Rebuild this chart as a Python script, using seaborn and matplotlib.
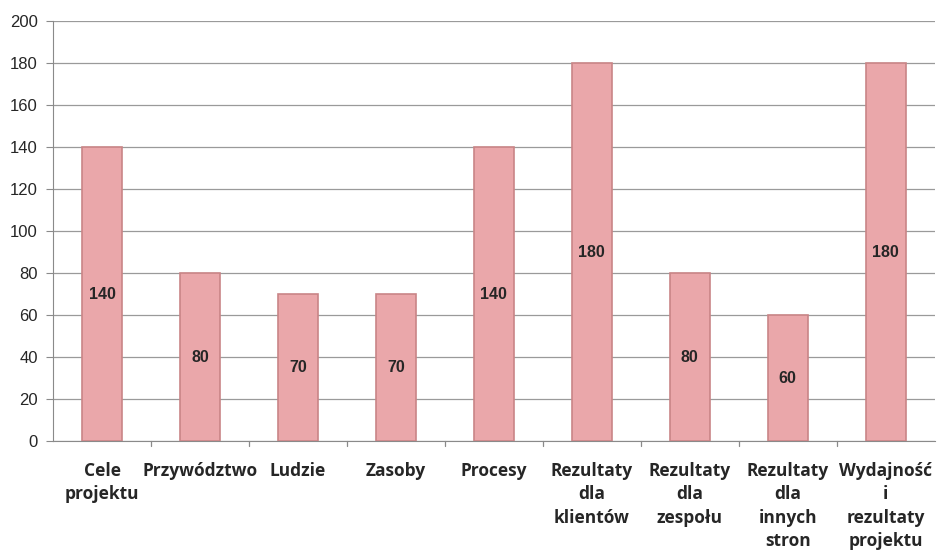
import matplotlib
matplotlib.use('Agg')
import matplotlib.pyplot as plt
import seaborn as sns
import pandas as pd
import numpy as np

# dane
kategorie = ['Cele\nprojektu', 'Przywództwo', 'Ludzie', 'Zasoby', 'Procesy',
             'Rezultaty\ndla\nklientów', 'Rezultaty\ndla\nzespołu',
             'Rezultaty\ndla\ninnych\nstron', 'Wydajność\ni\nrezultaty\nprojektu']
wartosci = [140, 80, 70, 70, 140, 180, 80, 60, 180]
y_ticks = [0, 20, 40, 60, 80, 100, 120, 140, 160, 180, 200]

sns.set_style('white')
plt.rcParams['font.family'] = ['Liberation Sans', 'DejaVu Sans']

df = pd.DataFrame({'kat': kategorie, 'val': wartosci})

fig = plt.figure(figsize=(9.48, 5.55), dpi=100)
ax = fig.add_axes([0.056, 0.205, 0.93, 0.757])

sns.barplot(data=df, x='kat', y='val', color='#eaa7aa', width=0.41,
            edgecolor='#c98587', linewidth=1.2, saturation=1, ax=ax, zorder=3)

ax.set_ylim(0, 200)
ax.set_yticks(y_ticks)
ax.set_xlim(-0.5, len(kategorie) - 0.5)
ax.grid(axis='y', color='#9a9a9a', linewidth=0.9, zorder=0)
ax.set_axisbelow(True)

for s in ['top', 'right']:
    ax.spines[s].set_visible(False)
ax.spines['left'].set_color('#8a8a8a')
ax.spines['bottom'].set_color('#8a8a8a')

ax.tick_params(axis='y', length=5, color='#8a8a8a', labelsize=12, pad=6, left=True)
ax.set_xticks(range(len(kategorie)))
ax.set_xticklabels(kategorie, fontsize=12.5, fontweight='bold', family='Open Sans',
                   linespacing=1.38)
ax.tick_params(axis='x', length=0, pad=15)
# kreski między kategoriami
for b in np.arange(0.5, len(kategorie) - 0.5, 1):
    ax.plot([b, b], [0, -0.012], transform=ax.get_xaxis_transform(),
            color='#8a8a8a', lw=0.9, clip_on=False)

ax.set_xlabel('')
ax.set_ylabel('')

for i, v in enumerate(wartosci):
    ax.text(i, v / 2, str(v), ha='center', va='center', fontsize=11.5,
            fontweight='bold', zorder=4)

fig.savefig('out.png', dpi=100)
